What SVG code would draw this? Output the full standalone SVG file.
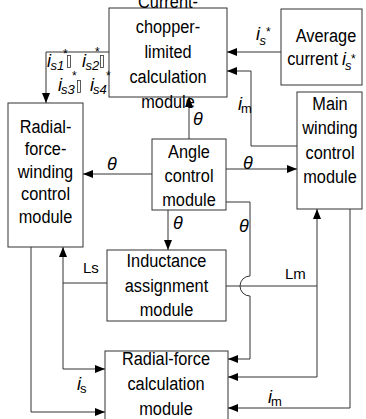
<svg xmlns="http://www.w3.org/2000/svg" width="366" height="419" viewBox="0 0 366 419">
<defs>
<style>
.box{fill:#fff;stroke:#333;stroke-width:1}
.ln{fill:none;stroke:#333;stroke-width:1}
.arr{marker-end:url(#ah)}
.t{font-family:"Liberation Sans",Arial,sans-serif;font-size:19px;text-anchor:middle;fill:#000}
.it{font-family:"Liberation Sans",Arial,sans-serif;font-size:18px;font-style:italic;fill:#000}
.sub{font-family:"Liberation Sans",Arial,sans-serif;font-size:13px;font-style:italic;fill:#000}
.subr{font-family:"Liberation Sans",Arial,sans-serif;font-size:13px;fill:#000}
.sup{font-family:"Liberation Sans",Arial,sans-serif;font-size:12px;fill:#000}
.lab{font-family:"Liberation Sans",Arial,sans-serif;font-size:15px;fill:#000}
.tofu{fill:none;stroke:#333;stroke-width:0.8}
</style>
<marker id="ah" markerUnits="userSpaceOnUse" markerWidth="10" markerHeight="8" refX="10" refY="4" orient="auto">
<path d="M0,0 L10,4 L0,8 z" fill="#000"/>
</marker>
</defs>
<rect width="366" height="419" fill="#fff"/>

<g id="connectors">
<path class="ln arr" d="M281,52 H227"/>
<path class="ln arr" d="M297,146 H251 V71 H227"/>
<path class="ln arr" d="M109,52 H46 V103"/>
<path class="ln arr" d="M189,139 V97"/>
<path class="ln arr" d="M152,174 H83"/>
<path class="ln arr" d="M226,169 H297"/>
<path class="ln arr" d="M168,210 V250"/>
<path class="ln arr" d="M226,202 H250 V276 A10,10 0 0,0 250,296 V359 H228"/>
<path class="ln arr" d="M107,283 H63 V247"/>
<path class="ln arr" d="M63,283 V369 H105"/>
<path class="ln arr" d="M31,247 V412 H105"/>
<path class="ln arr" d="M226,286 H317 V209"/>
<path class="ln arr" d="M317,286 V377 H228"/>
<path class="ln arr" d="M350,209 V408 H228"/>
</g>

<g id="chopper">
<rect class="box" x="109" y="8" width="118" height="89"/>
<g transform="translate(168,0) scale(0.86,1)">
<text class="t" x="0" y="8">Current-</text>
<text class="t" x="0" y="33">chopper-</text>
<text class="t" x="0" y="58">limited</text>
<text class="t" x="0" y="83">calculation</text>
<text class="t" x="0" y="108">module</text>
</g>
</g>

<g id="average">
<rect class="box" x="281" y="9" width="81" height="76"/>
<g transform="translate(326,0) scale(0.86,1)">
<text class="t" x="0" y="42">Average</text>
</g>
<g transform="translate(338,65) scale(0.86,1)">
<text class="t" x="0" y="0" style="text-anchor:end">current</text>
</g>
<text class="it" x="342" y="65">i</text>
<text class="sub" x="345" y="70">s</text>
<text class="sup" x="351" y="63">*</text>
</g>

<g id="radial-winding">
<rect class="box" x="8" y="103" width="75" height="144"/>
<g transform="translate(45.5,0) scale(0.86,1)">
<text class="t" x="0" y="133">Radial-</text>
<text class="t" x="0" y="155.5">force-</text>
<text class="t" x="0" y="178">winding</text>
<text class="t" x="0" y="200.5">control</text>
<text class="t" x="0" y="223">module</text>
</g>
</g>

<g id="main-winding">
<rect class="box" x="297" y="92" width="65" height="117"/>
<g transform="translate(330,0) scale(0.86,1)">
<text class="t" x="0" y="110">Main</text>
<text class="t" x="0" y="134.5">winding</text>
<text class="t" x="0" y="159">control</text>
<text class="t" x="0" y="183.5">module</text>
</g>
</g>

<g id="angle">
<rect class="box" x="152" y="139" width="74" height="71"/>
<g transform="translate(189,0) scale(0.86,1)">
<text class="t" x="0" y="158">Angle</text>
<text class="t" x="0" y="182">control</text>
<text class="t" x="0" y="206">module</text>
</g>
</g>

<g id="inductance">
<rect class="box" x="107" y="250" width="119" height="71"/>
<g transform="translate(166.5,0) scale(0.86,1)">
<text class="t" x="0" y="267">Inductance</text>
<text class="t" x="0" y="292">assignment</text>
<text class="t" x="0" y="316">module</text>
</g>
</g>

<g id="calc">
<rect class="box" x="105" y="351" width="123" height="80"/>
<g transform="translate(166,0) scale(0.86,1)">
<text class="t" x="0" y="365">Radial-force</text>
<text class="t" x="0" y="390">calculation</text>
<text class="t" x="0" y="415">module</text>
</g>
</g>

<g id="labels">
<text class="it" x="256" y="40">i</text>
<text class="sub" x="259.5" y="45">s</text>
<text class="sup" x="266" y="36">*</text>

<text class="it" x="238" y="110">i</text>
<text class="subr" x="241" y="113">m</text>

<text class="it" x="47" y="67">i</text>
<text class="sub" x="50.5" y="70">s1</text>
<text class="sup" x="63" y="58">*</text>
<rect class="tofu" x="67.5" y="55.5" width="3" height="12"/>

<text class="it" x="82" y="67">i</text>
<text class="sub" x="85.5" y="70">s2</text>
<text class="sup" x="95" y="56">*</text>
<rect class="tofu" x="100.5" y="55.5" width="3" height="12"/>

<text class="it" x="58" y="91">i</text>
<text class="sub" x="61" y="94">s3</text>
<text class="sup" x="72" y="80">*</text>
<rect class="tofu" x="77.5" y="80.5" width="3" height="12"/>

<text class="it" x="90" y="91">i</text>
<text class="sub" x="93" y="94">s4</text>
<text class="sup" x="106" y="80">*</text>

<text class="it" x="193" y="125">θ</text>
<text class="it" x="107" y="170">θ</text>
<text class="it" x="243" y="169">θ</text>
<text class="it" x="173" y="229">θ</text>
<text class="it" x="239" y="232">θ</text>

<text class="lab" x="83" y="273">Ls</text>
<text class="lab" x="285" y="279">Lm</text>

<text class="it" x="77" y="390">i</text>
<text class="subr" x="80" y="393">s</text>

<text class="it" x="268" y="403">i</text>
<text class="subr" x="271" y="406">m</text>
</g>
</svg>
